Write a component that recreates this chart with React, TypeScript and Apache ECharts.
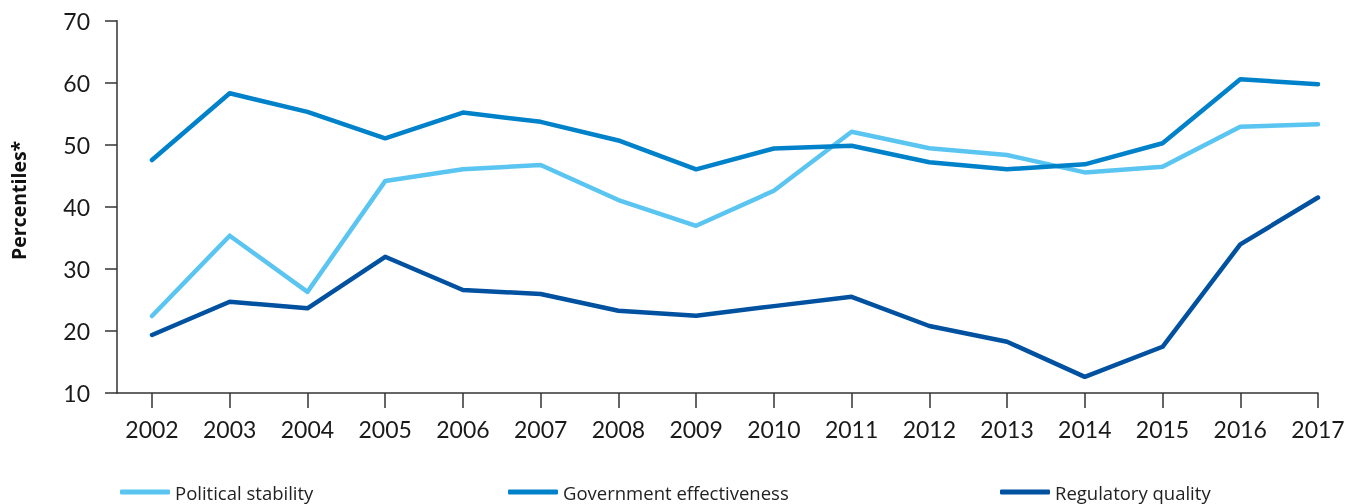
import React, { useEffect, useRef } from "react";
import * as echarts from "echarts";

const years = [2002, 2003, 2004, 2005, 2006, 2007, 2008, 2009, 2010, 2011, 2012, 2013, 2014, 2015, 2016, 2017];
const politicalStability = [22.4, 35.35, 26.3, 44.15, 46.05, 46.75, 41.1, 36.95, 42.6, 52.1, 49.45, 48.35, 45.55, 46.45, 52.9, 53.3];
const governmentEffectiveness = [47.55, 58.3, 55.3, 51.05, 55.2, 53.7, 50.7, 46.05, 49.4, 49.85, 47.2, 46.05, 46.85, 50.25, 60.55, 59.75];
const regulatoryQuality = [19.35, 24.7, 23.65, 31.95, 26.6, 25.95, 23.25, 22.45, 24.0, 25.5, 20.8, 18.25, 12.6, 17.45, 33.95, 41.5];
const seriesNames = ["Political stability", "Government effectiveness", "Regulatory quality"];
const colors = ["#5BC5F2", "#0082CA", "#0051A0"];

export default function App() {
  const ref = useRef<HTMLDivElement>(null);
  useEffect(() => {
    if (!ref.current) return;
    const chart = echarts.init(ref.current, null, { renderer: "svg" });
    const pair = (vals: number[]) => years.map((y, i) => [y, vals[i]]);
    const allData = [politicalStability, governmentEffectiveness, regulatoryQuality];
    const legendLefts = [115, 503, 995];
    const axisFont = { fontFamily: "Lato", fontSize: 23, color: "#1a1a1a" };
    chart.setOption({
      animation: false,
      grid: { left: 117, right: 31, top: 20.7, bottom: 111, containLabel: false, outerBoundsMode: "none" },
      xAxis: {
        type: "value",
        min: 2001.55,
        max: 2017,
        splitLine: { show: false },
        axisLine: { show: true, lineStyle: { color: "#333", width: 1.5 } },
        axisTick: { show: true, length: 15, lineStyle: { color: "#333", width: 1.5 }, customValues: years },
        axisLabel: { margin: 24, ...axisFont, customValues: years, formatter: (v: number) => String(Math.round(v)) },
      },
      yAxis: {
        type: "value",
        min: 10,
        max: 70,
        interval: 10,
        name: "Percentiles*",
        nameLocation: "middle",
        nameGap: 89,
        nameTextStyle: { fontFamily: "Open Sans", fontWeight: "bold", fontSize: 19.5, color: "#111", padding: [0, 0, 0, 13] },
        splitLine: { show: false },
        axisLine: { show: true, lineStyle: { color: "#333", width: 1.5 } },
        axisTick: { show: true, length: 12, lineStyle: { color: "#333", width: 1.5 } },
        axisLabel: { margin: 27, ...axisFont },
      },
      legend: seriesNames.map((n, i) => ({
        data: [n],
        left: legendLefts[i],
        top: 476,
        icon: "roundRect",
        itemWidth: 50,
        itemHeight: 5,
        textStyle: { fontFamily: "Open Sans", fontSize: 18.5, lineHeight: 22, color: "#222" },
      })),
      series: seriesNames.map((n, i) => ({
        name: n,
        type: "line",
        data: pair(allData[i]),
        symbol: "none",
        color: colors[i],
        lineStyle: { width: 4.5, color: colors[i], cap: "round", join: "round" },
      })),
    });
    return () => chart.dispose();
  }, []);
  return <div ref={ref} style={{ position: "fixed", left: 0, top: 0, width: 1349, height: 504 }} />;
}
